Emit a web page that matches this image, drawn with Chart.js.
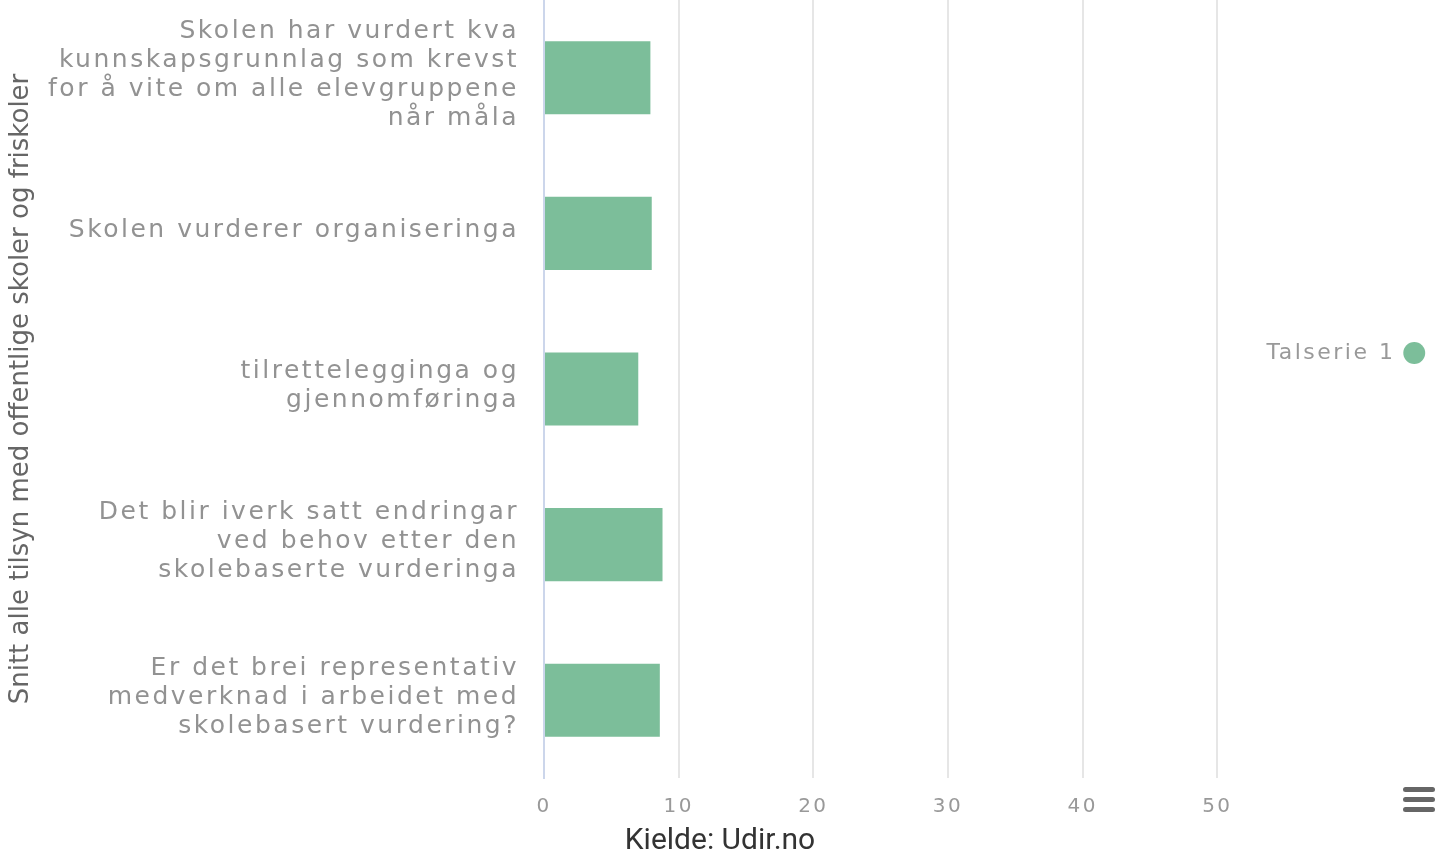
<!DOCTYPE html>
<html lang="nn">
<head>
<meta charset="utf-8">
<title>Skolebasert vurdering</title>
<script src="https://cdn.jsdelivr.net/npm/chart.js@4.4.1/dist/chart.umd.min.js"></script>
<style>
  html, body { margin: 0; padding: 0; background: #fff; }
  #wrap { position: relative; width: 1448px; height: 854px; }
  #credit {
    position: absolute; left: 720px; top: 838px; transform: translate(-50%, -50%);
    font: 30px Roboto, sans-serif; color: #333; white-space: nowrap;
  }
  #menu { position: absolute; left: 1403px; top: 787px; width: 32px; }
  #menu span { display: block; height: 5px; margin-bottom: 5px; border-radius: 3px; background: #666; }
</style>
</head>
<body>
<div id="wrap">
  <canvas id="chart"></canvas>
  <div id="credit">Kielde: Udir.no</div>
  <div id="menu"><span></span><span></span><span></span></div>
</div>
<script>
// categories (multi-line labels), one value each
const categories = [
  ['Skolen har vurdert kva', 'kunnskapsgrunnlag som krevst', 'for å vite om alle elevgruppene', 'når måla'],
  ['Skolen vurderer organiseringa'],
  ['tilrettelegginga og', 'gjennomføringa'],
  ['Det blir iverk satt endringar', 'ved behov etter den', 'skolebaserte vurderinga'],
  ['Er det brei representativ', 'medverknad i arbeidet med', 'skolebasert vurdering?'],
];
const values = [7.9, 8.0, 7.0, 8.8, 8.6];
const seriesName = 'Talserie 1';
const xTicks = [0, 10, 20, 30, 40, 50];
const yTitle = 'Snitt alle tilsyn med offentlige skoler og friskoler';

const FONT = "'DejaVu Sans', sans-serif";
const GREEN = '#7cbe9a';

// wide letter spacing on the canvas text, plain for the axis title
const spacing = {
  id: 'spacing',
  beforeLayout(chart) { chart.ctx.letterSpacing = '2.5px'; },
  afterLayout(chart) {
    const y = chart.scales.y;
    if (y && !y._plainTitle) {
      const draw = y.drawTitle;
      y.drawTitle = function () {
        this.ctx.save();
        this.ctx.letterSpacing = '0px';
        draw.call(this);
        this.ctx.restore();
      };
      y._plainTitle = true;
    }
  },
  beforeDraw(chart) { chart.ctx.letterSpacing = '2.5px'; },
};

new Chart(document.getElementById('chart'), {
  type: 'bar',
  data: {
    labels: categories,
    datasets: [{
      label: seriesName,
      data: values,
      backgroundColor: GREEN,
      borderWidth: 0,
      categoryPercentage: 1,
      barPercentage: 0.47,
    }],
  },
  options: {
    indexAxis: 'y',
    responsive: true,
    maintainAspectRatio: false,
    animation: false,
    layout: { padding: { left: 4, right: 16, top: 0, bottom: 18 } },
    plugins: {
      tooltip: { enabled: false },
      legend: {
        position: 'right',
        align: 'start',
        rtl: true,
        textDirection: 'ltr',
        title: { display: true, text: '', font: { size: 10 }, padding: { top: 0, bottom: 320 } },
        labels: {
          usePointStyle: true,
          pointStyle: 'circle',
          boxWidth: 15.5,
          boxHeight: 15.5,
          padding: 10,
          color: '#999',
          font: { family: FONT, size: 22 },
        },
      },
    },
    scales: {
      x: {
        min: 0,
        max: 52.9,
        afterBuildTicks: s => { s.ticks = xTicks.map(v => ({ value: v })); },
        grid: { color: '#e6e6e6', lineWidth: 2, drawTicks: false },
        border: { display: false },
        ticks: { color: '#999', padding: 17, font: { family: FONT, size: 20 } },
      },
      y: {
        afterFit: s => { s.width = 540; s.paddingTop = 0; s.paddingBottom = 0; },
        grid: { display: false },
        border: { display: true, color: '#ccd6eb', width: 2 },
        ticks: {
          color: '#929292',
          padding: 17,
          labelOffset: -3,
          font: { family: FONT, size: 25, lineHeight: 1.16 },
        },
        title: {
          display: true,
          text: yTitle,
          color: '#666',
          padding: { top: 2, bottom: 12 },
          font: { family: FONT, size: 26 },
        },
      },
    },
  },
  plugins: [spacing],
});
</script>
</body>
</html>
